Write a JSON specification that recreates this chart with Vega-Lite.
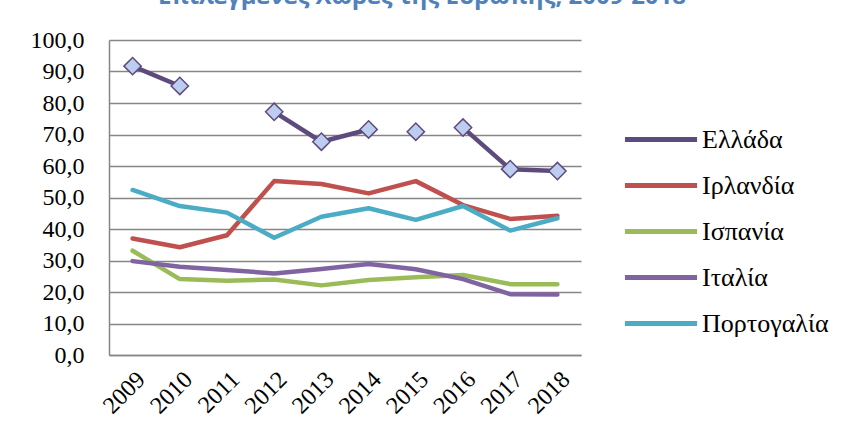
{
  "$schema": "https://vega.github.io/schema/vega-lite/v6.json",
  "width": 472,
  "height": 315,
  "autosize": {"type": "none"},
  "padding": {"left": 109, "top": 40, "right": 263, "bottom": 84},
  "background": "white",
  "title": {
    "text": "Επιλεγμένες Χώρες της Ευρώπης, 2009-2018",
    "font": "Open Sans",
    "fontSize": 24,
    "fontWeight": "bold",
    "color": "#4F81BD",
    "anchor": "middle",
    "frame": "group",
    "dx": 77,
    "baseline": "alphabetic",
    "offset": 0
  },
  "data": {
    "values": [
      {"country": "Ελλάδα", "year": "2009", "value": 91.7, "seg": "a"},
      {"country": "Ελλάδα", "year": "2010", "value": 85.4, "seg": "a"},
      {"country": "Ελλάδα", "year": "2012", "value": 77.2, "seg": "b"},
      {"country": "Ελλάδα", "year": "2013", "value": 67.7, "seg": "b"},
      {"country": "Ελλάδα", "year": "2014", "value": 71.6, "seg": "b"},
      {"country": "Ελλάδα", "year": "2015", "value": 70.9, "seg": "c"},
      {"country": "Ελλάδα", "year": "2016", "value": 72.2, "seg": "d"},
      {"country": "Ελλάδα", "year": "2017", "value": 59.0, "seg": "d"},
      {"country": "Ελλάδα", "year": "2018", "value": 58.4, "seg": "d"},
      {"country": "Ιρλανδία", "year": "2009", "value": 37.0, "seg": "a"},
      {"country": "Ιρλανδία", "year": "2010", "value": 34.2, "seg": "a"},
      {"country": "Ιρλανδία", "year": "2011", "value": 38.0, "seg": "a"},
      {"country": "Ιρλανδία", "year": "2012", "value": 55.2, "seg": "a"},
      {"country": "Ιρλανδία", "year": "2013", "value": 54.3, "seg": "a"},
      {"country": "Ιρλανδία", "year": "2014", "value": 51.3, "seg": "a"},
      {"country": "Ιρλανδία", "year": "2015", "value": 55.2, "seg": "a"},
      {"country": "Ιρλανδία", "year": "2016", "value": 47.6, "seg": "a"},
      {"country": "Ιρλανδία", "year": "2017", "value": 43.2, "seg": "a"},
      {"country": "Ιρλανδία", "year": "2018", "value": 44.2, "seg": "a"},
      {"country": "Ισπανία", "year": "2009", "value": 33.1, "seg": "a"},
      {"country": "Ισπανία", "year": "2010", "value": 24.1, "seg": "a"},
      {"country": "Ισπανία", "year": "2011", "value": 23.6, "seg": "a"},
      {"country": "Ισπανία", "year": "2012", "value": 24.0, "seg": "a"},
      {"country": "Ισπανία", "year": "2013", "value": 22.1, "seg": "a"},
      {"country": "Ισπανία", "year": "2014", "value": 23.8, "seg": "a"},
      {"country": "Ισπανία", "year": "2015", "value": 24.7, "seg": "a"},
      {"country": "Ισπανία", "year": "2016", "value": 25.4, "seg": "a"},
      {"country": "Ισπανία", "year": "2017", "value": 22.5, "seg": "a"},
      {"country": "Ισπανία", "year": "2018", "value": 22.5, "seg": "a"},
      {"country": "Ιταλία", "year": "2009", "value": 29.8, "seg": "a"},
      {"country": "Ιταλία", "year": "2010", "value": 28.0, "seg": "a"},
      {"country": "Ιταλία", "year": "2011", "value": 27.0, "seg": "a"},
      {"country": "Ιταλία", "year": "2012", "value": 25.9, "seg": "a"},
      {"country": "Ιταλία", "year": "2013", "value": 27.3, "seg": "a"},
      {"country": "Ιταλία", "year": "2014", "value": 28.9, "seg": "a"},
      {"country": "Ιταλία", "year": "2015", "value": 27.2, "seg": "a"},
      {"country": "Ιταλία", "year": "2016", "value": 24.1, "seg": "a"},
      {"country": "Ιταλία", "year": "2017", "value": 19.3, "seg": "a"},
      {"country": "Ιταλία", "year": "2018", "value": 19.2, "seg": "a"},
      {"country": "Πορτογαλία", "year": "2009", "value": 52.4, "seg": "a"},
      {"country": "Πορτογαλία", "year": "2010", "value": 47.3, "seg": "a"},
      {"country": "Πορτογαλία", "year": "2011", "value": 45.2, "seg": "a"},
      {"country": "Πορτογαλία", "year": "2012", "value": 37.2, "seg": "a"},
      {"country": "Πορτογαλία", "year": "2013", "value": 43.9, "seg": "a"},
      {"country": "Πορτογαλία", "year": "2014", "value": 46.6, "seg": "a"},
      {"country": "Πορτογαλία", "year": "2015", "value": 42.9, "seg": "a"},
      {"country": "Πορτογαλία", "year": "2016", "value": 47.3, "seg": "a"},
      {"country": "Πορτογαλία", "year": "2017", "value": 39.5, "seg": "a"},
      {"country": "Πορτογαλία", "year": "2018", "value": 43.4, "seg": "a"}
    ]
  },
  "encoding": {
    "x": {
      "field": "year",
      "type": "ordinal",
      "scale": {"type": "point", "padding": 0.5, "domain": ["2009","2010","2011","2012","2013","2014","2015","2016","2017","2018"]},
      "axis": {
        "title": null,
        "labelAngle": -45,
        "labelFont": "Liberation Serif",
        "labelFontSize": 24,
        "labelColor": "#000000",
        "labelPadding": 12,
        "ticks": false,
        "domainColor": "#868686",
        "domainWidth": 1.5,
        "grid": false
      }
    },
    "y": {
      "field": "value",
      "type": "quantitative",
      "scale": {"domain": [0, 100], "nice": false},
      "axis": {
        "title": null,
        "values": [0,10,20,30,40,50,60,70,80,90,100],
        "labelExpr": "replace(format(datum.value, '.1f'), '.', ',')",
        "labelFont": "Liberation Serif",
        "labelFontSize": 24,
        "labelColor": "#000000",
        "labelPadding": 25,
        "ticks": false,
        "domainColor": "#868686",
        "domainWidth": 1.5,
        "grid": true,
        "gridColor": "#868686",
        "gridWidth": 1.5
      }
    }
  },
  "layer": [
    {
      "mark": {"type": "line", "strokeWidth": 4.5, "strokeCap": "round", "strokeJoin": "round"},
      "encoding": {
        "color": {
          "field": "country",
          "type": "nominal",
          "scale": {
            "domain": ["Ελλάδα", "Ιρλανδία", "Ισπανία", "Ιταλία", "Πορτογαλία"],
            "range": ["#5E4B7E", "#C0504D", "#9BBB59", "#8064A2", "#4BACC6"]
          },
          "legend": {
            "title": null,
            "orient": "none",
            "legendX": 513,
            "legendY": 77,
            "symbolType": "stroke",
            "symbolSize": 5200,
            "symbolStrokeWidth": 5,
            "labelFont": "Liberation Serif",
            "labelFontSize": 26,
            "labelColor": "#000000",
            "labelOffset": 2,
            "clipHeight": 45.2,
            "rowPadding": 0
          }
        },
        "detail": {"field": "seg"}
      }
    },
    {
      "transform": [{"filter": "datum.country === 'Ελλάδα'"}],
      "mark": {"type": "point", "shape": "diamond", "size": 300, "filled": true, "fill": "#BCCDEF", "stroke": "#5E4B7E", "strokeWidth": 1.5, "opacity": 1}
    }
  ],
  "config": {
    "view": {"stroke": null}
  }
}
